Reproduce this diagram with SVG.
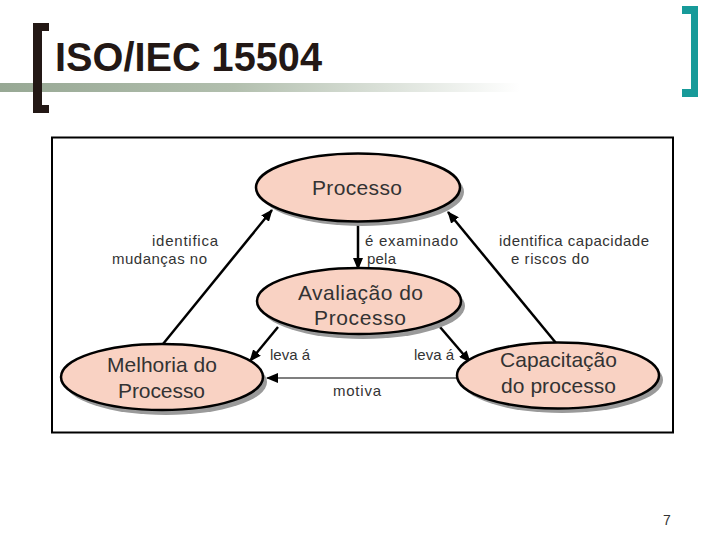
<svg xmlns="http://www.w3.org/2000/svg" width="720" height="540" viewBox="0 0 720 540">
<style>
.node{fill:#f9d2c3;stroke:#000;stroke-width:2.5}
.shadow{fill:#9a9a9a}
.nt{font-family:"Liberation Sans",Arial,sans-serif;font-size:21px;fill:#333;text-anchor:start}
.lb{font-family:"Liberation Sans",Arial,sans-serif;font-size:15px;fill:#333}
.thick{stroke:#000;stroke-width:2.5;fill:none;marker-end:url(#ah)}
.thin{stroke:#000;stroke-width:1.2;fill:none;marker-end:url(#ah)}
</style>
<defs>
<linearGradient id="bar" x1="0" y1="0" x2="1" y2="0">
<stop offset="0" stop-color="#97a894"/>
<stop offset="0.45" stop-color="#b2bfae"/>
<stop offset="1" stop-color="#ffffff"/>
</linearGradient>
<marker id="ah" markerUnits="userSpaceOnUse" markerWidth="12" markerHeight="10" refX="11" refY="5" orient="auto">
<path d="M0,0 L12,5 L0,10 z" fill="#000"/>
</marker>
</defs>
<rect width="720" height="540" fill="#fff"/>
<g id="title">
<rect x="0" y="83" width="520" height="9" fill="url(#bar)"/>
<path d="M33,23 H49 V31 H42 V105 H49 V113 H33 Z" fill="#231815"/>
<path d="M682,6 H698 V97 H682 V89 H691 V14 H682 Z" fill="#179a99"/>
<text x="55" y="71" font-family="'Liberation Sans',Arial,sans-serif" font-weight="bold" font-size="40" fill="#231815" textLength="267" lengthAdjust="spacingAndGlyphs">ISO/IEC 15504</text>
</g>
<rect id="frame" x="52" y="137.5" width="621" height="295" fill="#fff" stroke="#000" stroke-width="2"/>
<g id="connectors">
<line class="thick" x1="358" y1="222" x2="358" y2="269"/>
<line class="thick" x1="163" y1="344" x2="272" y2="210"/>
<line class="thick" x1="556" y1="343" x2="448" y2="212"/>
<line class="thick" x1="278" y1="327" x2="250" y2="361"/>
<line class="thick" x1="440" y1="327" x2="470" y2="362"/>
<line class="thin" x1="457" y1="378" x2="267" y2="378"/>
<text class="lb" x="152" y="246" textLength="66" lengthAdjust="spacing">identifica</text>
<text class="lb" x="112" y="264" textLength="95" lengthAdjust="spacing">mudanças no</text>
<text class="lb" x="365" y="246" textLength="93" lengthAdjust="spacing">é examinado</text>
<text class="lb" x="367" y="264" textLength="29" lengthAdjust="spacing">pela</text>
<text class="lb" x="499" y="246" textLength="150" lengthAdjust="spacing">identifica capacidade</text>
<text class="lb" x="511" y="264" textLength="78" lengthAdjust="spacing">e riscos do</text>
<text class="lb" x="270" y="360" textLength="40" lengthAdjust="spacing">leva á</text>
<text class="lb" x="414" y="360" textLength="40" lengthAdjust="spacing">leva á</text>
<text class="lb" x="333" y="396" textLength="48" lengthAdjust="spacing">motiva</text>
</g>
<g id="processo">
<ellipse class="shadow" cx="362" cy="192" rx="102" ry="34"/>
<ellipse class="node" cx="358" cy="187.5" rx="102" ry="34"/>
<text class="nt" x="312" y="195" textLength="90" lengthAdjust="spacing">Processo</text>
</g>
<g id="avaliacao">
<ellipse class="shadow" cx="363" cy="306" rx="102" ry="33"/>
<ellipse class="node" cx="359" cy="301" rx="102" ry="33"/>
<text class="nt" x="298" y="300" textLength="125" lengthAdjust="spacing">Avaliação do</text>
<text class="nt" x="314" y="325" textLength="92" lengthAdjust="spacing">Processo</text>
</g>
<g id="melhoria">
<ellipse class="shadow" cx="166" cy="382" rx="101" ry="33"/>
<ellipse class="node" cx="162" cy="377" rx="101" ry="33"/>
<text class="nt" x="107" y="372" textLength="110" lengthAdjust="spacing">Melhoria do</text>
<text class="nt" x="118" y="398" textLength="87" lengthAdjust="spacing">Processo</text>
</g>
<g id="capacitacao">
<ellipse class="shadow" cx="562" cy="380" rx="101" ry="33"/>
<ellipse class="node" cx="558" cy="375.5" rx="101" ry="33"/>
<text class="nt" x="500" y="367" textLength="117" lengthAdjust="spacing">Capacitação</text>
<text class="nt" x="501" y="393" textLength="115" lengthAdjust="spacing">do processo</text>
</g>
<text id="page" x="663" y="525" font-family="'Liberation Sans',Arial,sans-serif" font-size="14" fill="#333">7</text>
</svg>
